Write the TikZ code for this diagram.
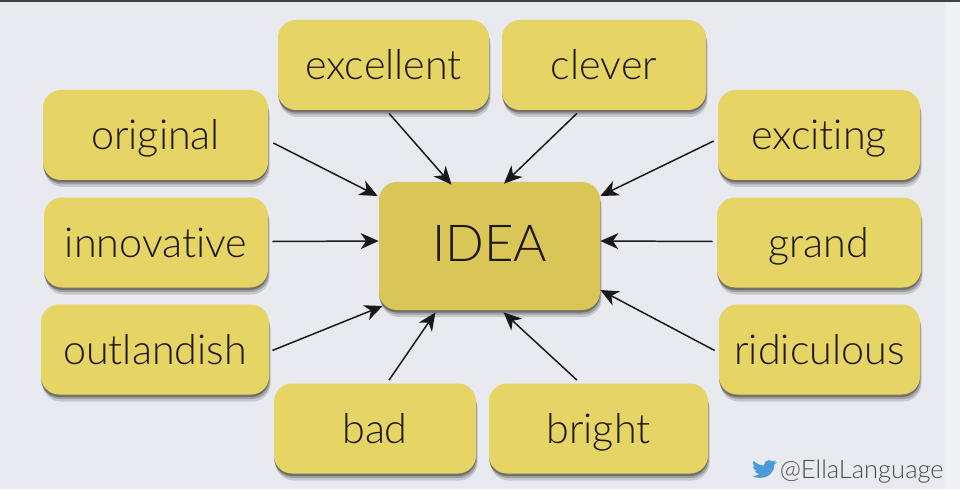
\documentclass[tikz,border=0pt]{standalone}
\usepackage{xcolor}
\usepackage{fontspec}
\setmainfont{Lato}[Ligatures=CommonOff,UprightFont=* Light]
\usetikzlibrary{calc,shadows,arrows.meta}
\definecolor{pagebg}{HTML}{E8EAEF}
\definecolor{wordfill}{HTML}{E6D564}
\definecolor{ideafill}{HTML}{D9C656}
\definecolor{wordink}{HTML}{1E1808}
\definecolor{birdblue}{HTML}{4A9CD8}
\begin{document}
\begin{tikzpicture}[>={Stealth[length=3.6mm,width=3.2mm,inset=1.1mm]},
			softshadow/.style={drop shadow={shadow xshift=0.03cm,shadow yshift=-0.14cm,opacity=0.14,fill=black},
				drop shadow={shadow xshift=0.02cm,shadow yshift=-0.09cm,opacity=0.2,fill=black},
				drop shadow={shadow xshift=0cm,shadow yshift=-0.05cm,opacity=0.4,fill=black!80!wordfill}},
			wordbox/.style={rectangle,rounded corners=0.36cm,fill=wordfill,text=wordink,minimum height=1.8cm,
				font=\fontsize{23.5}{26}\selectfont,inner sep=0pt,text height=0.9cm,text depth=0.3cm,softshadow},
			ideabox/.style={wordbox,fill=ideafill,minimum width=4.42cm,minimum height=2.56cm,
				font=\fontsize{29}{34}\selectfont},
			link/.style={->,line width=0.85pt,black!90},
			]
			% 背景
			\useasboundingbox (0,0) rectangle (19.2,9.78);
			\fill[pagebg] (0,0) rectangle (19.2,9.78);
			\fill[white!35!pagebg] (18.9,0) rectangle (19.2,9.78);
			\fill[black!75] (0,9.74) rectangle (19.2,9.78);
			
			% 中心
			\node[ideabox] (idea) at (9.79,4.86) {IDEA};
			
			% 上下两排
			\node[wordbox,minimum width=4.22cm] (excellent) at (7.67,8.48) {excellent};
			\node[wordbox,minimum width=4.08cm] (clever) at (12.08,8.48) {clever};
			\node[wordbox,minimum width=4.04cm] (bad) at (7.5,1.21) {bad};
			\node[wordbox,minimum width=4.38cm] (bright) at (11.97,1.21) {bright};
			
			% 左列
			\node[wordbox,minimum width=4.5cm] (original) at (3.11,7.08) {original};
			\node[wordbox,minimum width=4.48cm] (innovative) at (3.12,4.93) {innovative};
			\node[wordbox,minimum width=4.56cm] (outlandish) at (3.10,2.79) {outlandish};
			
			% 右列
			\node[wordbox,minimum width=4.04cm] (exciting) at (16.38,7.08) {exciting};
			\node[wordbox,minimum width=4.08cm] (grand) at (16.38,4.93) {grand};
			\node[wordbox,minimum width=4.02cm] (ridiculous) at (16.39,2.79) {ridiculous};
			
			% 箭头
			\draw[link] ([shift={(0.1,-0.16)}]original.east)--([shift={(-0.02,1)}]idea.west);
			\draw[link] ([shift={(0.08,0.02)}]innovative.east)--([shift={(0,0.1)}]idea.west);
			\draw[link] ([shift={(0.06,-0.02)}]outlandish.east)--([shift={(0.08,-1.2)}]idea.west);
			\draw[link] ([shift={(0.11,-0.06)}]excellent.south)--([shift={(-0.76,-0.06)}]idea.north);
			\draw[link] ([shift={(-0.54,-0.06)}]clever.south)--([shift={(0.29,-0.04)}]idea.north);
			\draw[link] ([shift={(-0.08,-0.12)}]exciting.west)--([shift={(0,1)}]idea.east);
			\draw[link] ([shift={(-0.08,0.02)}]grand.west)--([shift={(0,0.1)}]idea.east);
			\draw[link] ([shift={(-0.08,-0.02)}]ridiculous.west)--([shift={(0,-0.88)}]idea.east);
			\draw[link] ([shift={(0.28,0.06)}]bad.north)--([shift={(-1.08,-0.04)}]idea.south);
			\draw[link] ([shift={(-0.43,0.06)}]bright.north)--([shift={(0.28,-0.04)}]idea.south);
			
			% 署名
			\node[anchor=east,inner sep=0pt,text=black!70,font=\fontsize{14.5}{16}\selectfont] (handle) at (18.88,0.34) {@EllaLanguage};
			\begin{scope}[shift={(15.04,0.62)},x=0.0208cm,y=-0.0183cm]
				\fill[birdblue] (23.95,4.57) .. controls (23.1,4.95) and (22.1,5.2) .. (21.13,5.35)
				.. controls (22.15,4.75) and (22.93,3.75) .. (23.29,2.62)
				.. controls (22.34,3.18) and (21.29,3.58) .. (20.16,3.8)
				.. controls (19.26,2.85) and (18,2.3) .. (16.56,2.3)
				.. controls (13.9,2.3) and (11.65,4.45) .. (11.65,7.2)
				.. controls (11.65,7.6) and (11.7,7.95) .. (11.78,8.28)
				.. controls (7.69,8.1) and (4.07,6.13) .. (1.64,3.16)
				.. controls (1.22,3.9) and (.97,4.75) .. (.97,5.64)
				.. controls (.97,7.35) and (1.84,8.85) .. (3.16,9.73)
				.. controls (2.35,9.7) and (1.6,9.48) .. (.93,9.12)
				-- (.93,9.18)
				.. controls (.93,11.56) and (2.63,13.55) .. (4.88,14.0)
				.. controls (4.17,14.2) and (3.4,14.22) .. (2.67,14.09)
				.. controls (3.3,16.04) and (5.12,17.46) .. (7.27,17.5)
				.. controls (5.6,18.83) and (3.45,19.6) .. (1.17,19.6)
				.. controls (.78,19.6) and (.39,19.58) .. (0,19.54)
				.. controls (2.18,20.93) and (4.77,21.75) .. (7.56,21.75)
				.. controls (16.6,21.75) and (21.55,14.25) .. (21.55,7.76)
				.. controls (21.55,7.55) and (21.55,7.34) .. (21.54,7.13)
				.. controls (22.5,6.44) and (23.35,5.58) .. (23.95,4.57) -- cycle;
			\end{scope}
		\end{tikzpicture}
\end{document}
